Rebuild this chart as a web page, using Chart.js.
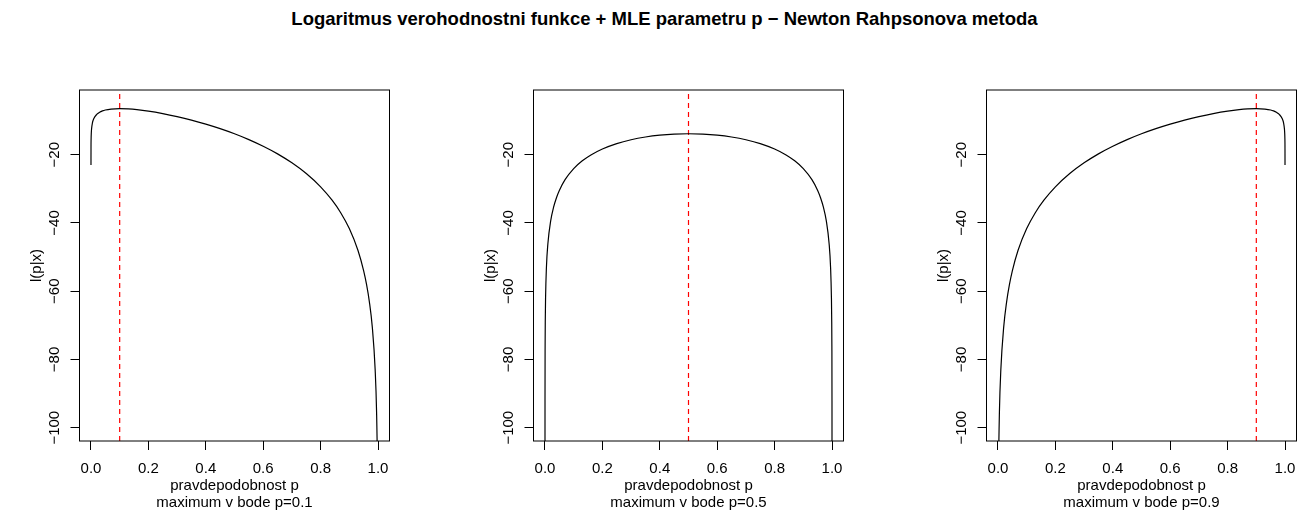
<!DOCTYPE html>
<html>
<head>
<meta charset="utf-8">
<script src="https://cdn.jsdelivr.net/npm/chart.js@4.4.1/dist/chart.umd.min.js"></script>
<style>
  html, body { margin: 0; padding: 0; background: #fff; }
  body { width: 1297px; height: 511px; position: relative; overflow: hidden; }
  canvas { position: absolute; top: 0; }
  #title { position: absolute; left: 664.5px; top: 10px; transform: translateX(-50%);
           font: bold 18.5px "Liberation Sans", Arial, sans-serif; line-height: 18.5px;
           white-space: nowrap; color: #000; }
</style>
</head>
<body>
<div id="title">Logaritmus verohodnostni funkce + MLE parametru p − Newton Rahpsonova metoda</div>
<canvas id="c1" width="390" height="511" style="left:0px"></canvas>
<canvas id="c2" width="390" height="511" style="left:454px"></canvas>
<canvas id="c3" width="390" height="511" style="left:907px"></canvas>
<script>
// ---- data ----
const pValues = [0.00001, 0.0001, 0.0005, 0.001, 0.002, 0.005, 0.01, 0.02, 0.03, 0.04, 0.05, 0.07,
  0.1, 0.13, 0.16, 0.2, 0.25, 0.3, 0.35, 0.4, 0.45, 0.5, 0.55, 0.6, 0.65, 0.7, 0.75, 0.8,
  0.84, 0.87, 0.9, 0.93, 0.95, 0.96, 0.97, 0.98, 0.99, 0.995, 0.998, 0.999, 0.9995, 0.9999, 0.99999];

const logLikP01 = [-23.03, -18.42, -15.21, -13.83, -12.47, -10.69, -9.39, -8.19, -7.56, -7.17, -6.91, -6.63,
  -6.50, -6.59, -6.80, -7.23, -7.95, -8.83, -9.85, -11.03, -12.36, -13.86, -15.57, -17.52, -19.76, -22.39,
  -25.53, -29.42, -33.34, -37.00, -41.66, -48.01, -54.03, -58.02, -63.18, -70.46, -82.91, -95.38,
  -111.87, -124.34, -136.82, -165.79, -207.23];

const logLikP05 = [-115.13, -92.10, -76.01, -69.09, -62.17, -53.03, -46.15, -39.32, -35.37, -32.60, -30.47, -27.32,
  -24.08, -21.80, -20.07, -18.33, -16.74, -15.61, -14.81, -14.27, -13.96, -13.86, -13.96, -14.27, -14.81,
  -15.61, -16.74, -18.33, -20.07, -21.80, -24.08, -27.32, -30.47, -32.60, -35.37, -39.32, -46.15, -53.03,
  -62.17, -69.09, -76.01, -92.10, -115.13];

const logLikP09 = [-207.23, -165.79, -136.82, -124.34, -111.87, -95.38, -82.91, -70.46, -63.18, -58.02, -54.03,
  -48.01, -41.66, -37.00, -33.34, -29.42, -25.53, -22.39, -19.76, -17.52, -15.57, -13.86, -12.36, -11.03,
  -9.85, -8.83, -7.95, -7.23, -6.80, -6.59, -6.50, -6.63, -6.91, -7.17, -7.56, -8.19, -9.39, -10.69,
  -12.47, -13.83, -15.21, -18.42, -23.03];

const mleValues = [0.1, 0.5, 0.9];
const xTicks = [0, 0.2, 0.4, 0.6, 0.8, 1.0];
const yTicks = [-100, -80, -60, -40, -20];
const xAxisTitle = 'pravdepodobnost p';
const subTitles = ['maximum v bode p=0.1', 'maximum v bode p=0.5', 'maximum v bode p=0.9'];
const yAxisTitle = 'l(p|x)';

// ---- chart construction ----
const X_MIN = -0.04, X_MAX = 1.04;
const Y_MIN = -103.9, Y_MAX = -1.04;
const FONT = '"Liberation Sans", Arial, sans-serif';

const boxPlugin = {
  id: 'rbox',
  afterDatasetsDraw(chart) {
    const a = chart.chartArea, ctx = chart.ctx;
    ctx.save();
    ctx.strokeStyle = '#000';
    ctx.lineWidth = 1;
    ctx.strokeRect(a.left, a.top, a.right - a.left, a.bottom - a.top);
    ctx.restore();
  }
};

function makeChart(id, values, mle, sub) {
  const curve = pValues.map((p, i) => ({ x: p, y: values[i] }));
  const vline = [{ x: mle, y: Y_MIN }, { x: mle, y: Y_MAX }];
  return new Chart(document.getElementById(id), {
    type: 'line',
    data: {
      datasets: [
        { data: curve, borderColor: '#000', borderWidth: 1.2, pointRadius: 0,
          cubicInterpolationMode: 'monotone', fill: false },
        { data: vline, borderColor: '#ff0000', borderWidth: 1.2, borderDash: [5, 4],
          pointRadius: 0, fill: false }
      ]
    },
    options: {
      responsive: false,
      devicePixelRatio: 1,
      animation: false,
      events: [],
      layout: { padding: { top: 90, right: 0.5, bottom: 0, left: 0 } },
      plugins: { legend: { display: false }, tooltip: { enabled: false }, title: { display: false } },
      scales: {
        x: {
          type: 'linear', min: X_MIN, max: X_MAX,
          afterBuildTicks: s => { s.ticks = xTicks.map(v => ({ value: v })); },
          afterFit: s => { s.height = 70; s.paddingLeft = 0; s.paddingRight = 0; },
          grid: { display: true, drawOnChartArea: false, drawTicks: true, tickLength: 9,
                  tickColor: '#000', tickWidth: 1 },
          border: { display: false },
          ticks: { autoSkip: false, maxRotation: 0, minRotation: 0, padding: 9.7, color: '#000',
                   font: { family: FONT, size: 15 }, callback: v => Number(v).toFixed(1) },
          title: { display: true, text: [xAxisTitle, sub], color: '#000',
                   font: { family: FONT, size: 15, lineHeight: 1.113 }, padding: { top: 0, bottom: 0 } }
        },
        y: {
          type: 'linear', min: Y_MIN, max: Y_MAX,
          afterBuildTicks: s => { s.ticks = yTicks.map(v => ({ value: v })); },
          afterFit: s => { s.width = 79.5; s.paddingTop = 0; s.paddingBottom = 0; },
          grid: { display: true, drawOnChartArea: false, drawTicks: true, tickLength: 9,
                  tickColor: '#000', tickWidth: 1 },
          border: { display: false },
          ticks: { autoSkip: false, minRotation: 90, maxRotation: 90, crossAlign: 'center',
                   padding: -1.4, color: '#000', font: { family: FONT, size: 15 },
                   callback: v => String(v).replace('-', '\u2212') },
          title: { display: true, text: yAxisTitle, color: '#000',
                   font: { family: FONT, size: 15, lineHeight: 1.113 }, padding: { top: 28.5, bottom: 0 } }
        }
      }
    },
    plugins: [boxPlugin]
  });
}

makeChart('c1', logLikP01, mleValues[0], subTitles[0]);
makeChart('c2', logLikP05, mleValues[1], subTitles[1]);
makeChart('c3', logLikP09, mleValues[2], subTitles[2]);
</script>
</body>
</html>
